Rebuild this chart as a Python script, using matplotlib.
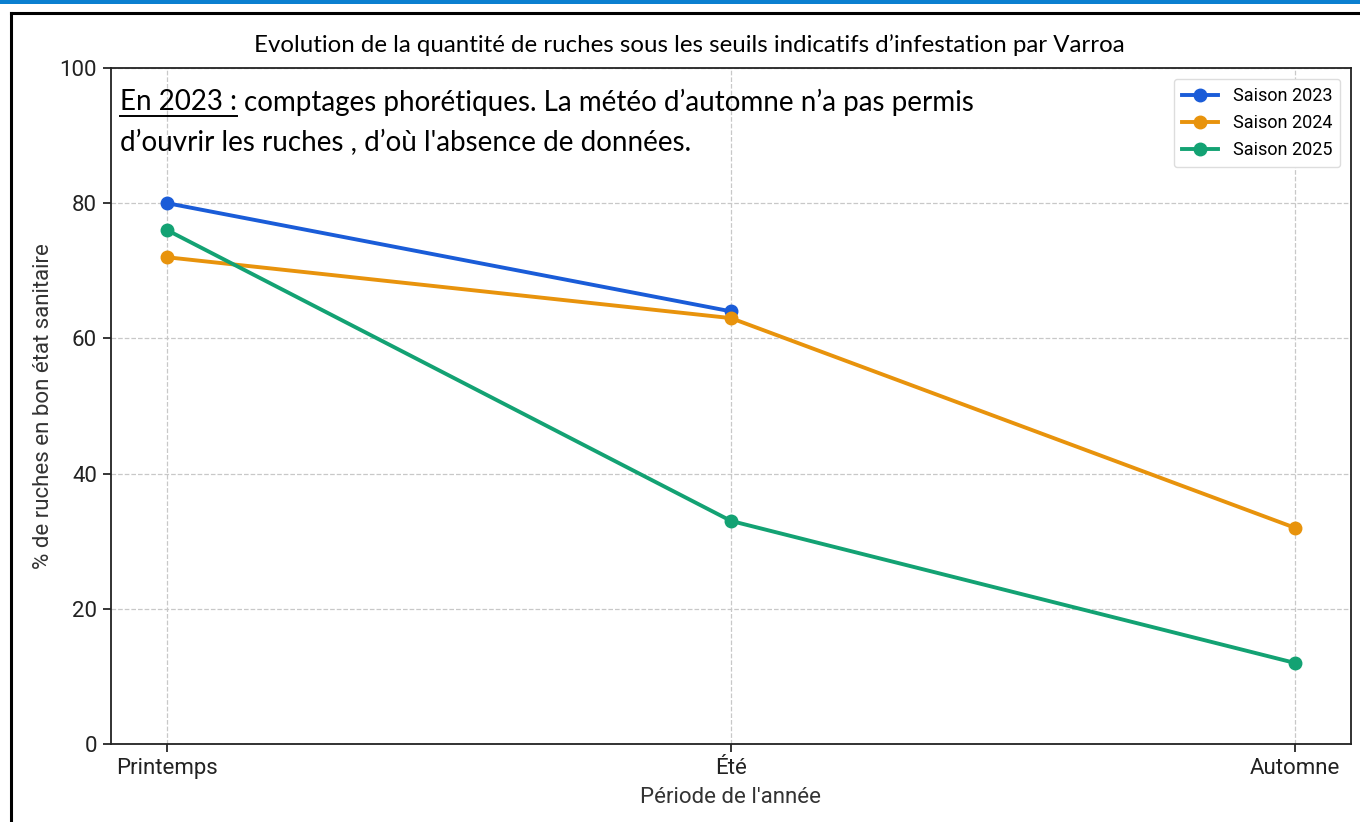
import matplotlib
matplotlib.use("Agg")
import matplotlib.pyplot as plt
from matplotlib.patches import Rectangle
from matplotlib.lines import Line2D

periods = ["Printemps", "Été", "Automne"]
x_pos = [0, 1, 2]
s2023 = [80, 64]
s2024 = [72, 63, 32]
s2025 = [76, 33, 12]
labels = ["Saison 2023", "Saison 2024", "Saison 2025"]
colors = ["#1a5cd8", "#e8930c", "#13a273"]
yticks = [0, 20, 40, 60, 80, 100]

W, H = 1360, 822
fig = plt.figure(figsize=(W / 100, H / 100), dpi=100)

# decorative top bar and frame
fig.add_artist(Rectangle((0, 1 - 4 / H), 1, 4 / H, transform=fig.transFigure,
                         facecolor="#0a7fd0", edgecolor="none"))
fig.add_artist(Line2D([11 / W, 11 / W], [0, 1 - 13 / H], transform=fig.transFigure,
                      color="black", lw=2.2))
fig.add_artist(Line2D([11 / W, 1], [1 - 13 / H, 1 - 13 / H], transform=fig.transFigure,
                      color="black", lw=2.2))

ax = fig.add_axes([111 / W, 1 - 744 / H, (1351 - 111) / W, (744 - 68) / H])

ax.plot(x_pos[:len(s2023)], s2023, "-o", color=colors[0], lw=2.8, ms=9, label=labels[0])
ax.plot(x_pos, s2024, "-o", color=colors[1], lw=2.8, ms=9, label=labels[1])
ax.plot(x_pos, s2025, "-o", color=colors[2], lw=2.8, ms=9, label=labels[2])

ax.set_xlim(-0.1, 2.1)
ax.set_ylim(0, 100)
ax.set_xticks(x_pos)
ax.set_xticklabels(periods, fontsize=16, family="Roboto", color="#222222")
ax.set_yticks(yticks)
ax.set_yticklabels([str(v) for v in yticks], fontsize=16, family="Roboto", color="#222222")
ax.grid(True, linestyle="--", color="#c8c8c8", lw=0.9)
ax.set_axisbelow(True)
for sp in ax.spines.values():
    sp.set_linewidth(1.3)
    sp.set_color("#222222")
ax.tick_params(length=6, width=1.1, pad=4)

ax.set_xlabel("Période de l'année", fontsize=16, family="Roboto", color="#333333", labelpad=6)
ax.set_ylabel("% de ruches en bon état sanitaire", fontsize=16, family="Roboto",
              color="#333333", labelpad=4)

leg = ax.legend(loc="upper right", prop={"family": "Roboto", "size": 13},
                frameon=True, borderpad=0.45, handlelength=2.0, labelspacing=0.5,
                edgecolor="#dddddd", framealpha=1, borderaxespad=0.6)

fig.text(689 / W, 1 - 45 / H, "Evolution de la quantité de ruches sous les seuils indicatifs d\u2019infestation par Varroa",
         ha="center", va="center", fontsize=17.3, family="Lato", color="black")

fs = 20
t1 = fig.text(120 / W, 1 - 102 / H, "En 2023 :", ha="left", va="center",
              fontsize=fs, family="Lato", color="black")
fig.canvas.draw()
bb = t1.get_window_extent()
x_end = bb.x1 / W
fig.text(x_end + 7 / W, 1 - 102 / H,
         "comptages phorétiques. La météo d\u2019automne n\u2019a pas permis",
         ha="left", va="center", fontsize=fs, family="Lato", color="black")
fig.text(120 / W, 1 - 143 / H,
         "d\u2019ouvrir les ruches , d\u2019où l'absence de données.",
         ha="left", va="center", fontsize=fs, family="Lato", color="black")
fig.add_artist(Line2D([bb.x0 / W, x_end], [1 - 116 / H, 1 - 116 / H],
                      transform=fig.transFigure, color="black", lw=1.4))

fig.savefig("out.png", dpi=100)
